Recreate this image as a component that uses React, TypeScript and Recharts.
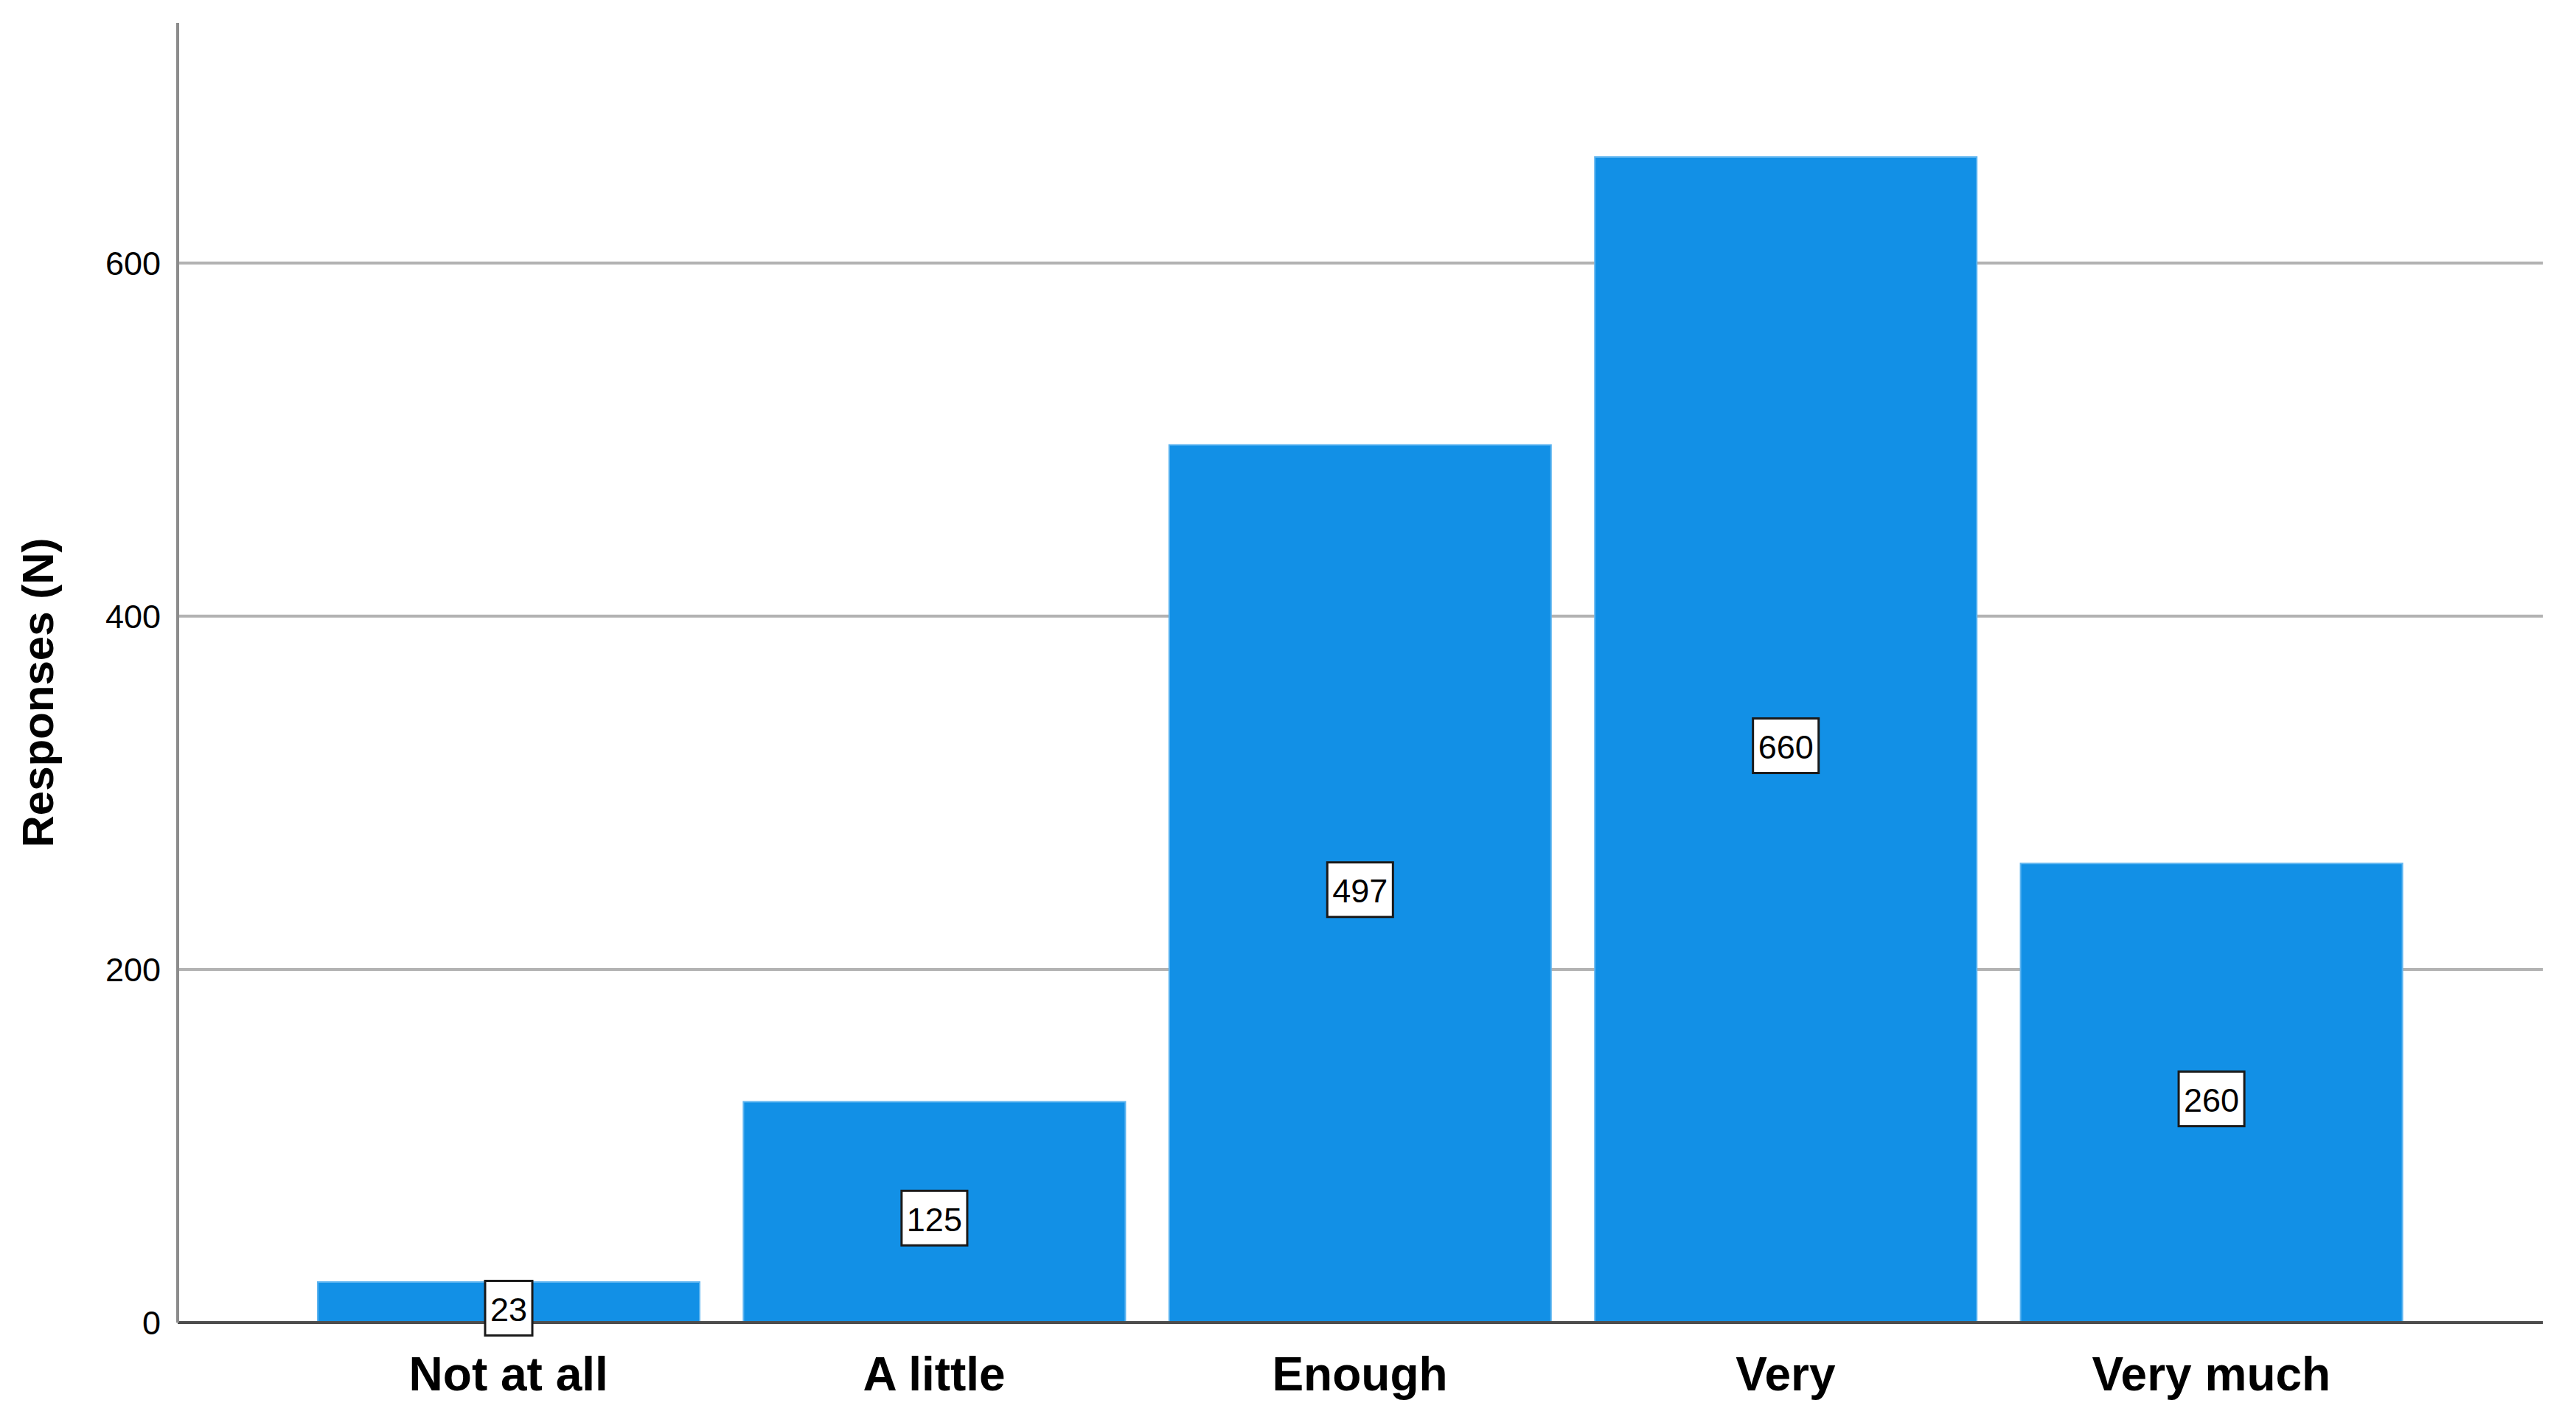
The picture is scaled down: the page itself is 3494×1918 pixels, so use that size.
import React from 'react';
import { BarChart, Bar, XAxis, YAxis, CartesianGrid, LabelList } from 'recharts';

const categories = ['Not at all', 'A little', 'Enough', 'Very', 'Very much'];
const responses = [23, 125, 497, 660, 260];
const yTicks = [0, 200, 400, 600];

const FONT = '"Liberation Sans", Arial, sans-serif';

const data = categories.map((name, i) => ({ name, value: responses[i] }));

// boxed value label drawn in the middle of each bar
function ValueBox(props: any) {
  const { x, y, width, height, value } = props;
  const text = String(value);
  const fontSize = 45;
  const boxW = text.length * fontSize * 0.556 + 14;
  const boxH = 74;
  const cx = x + width / 2;
  const cy = y + height / 2 + 8;
  return (
    <g>
      <rect
        x={cx - boxW / 2}
        y={cy - boxH / 2}
        width={boxW}
        height={boxH}
        fill="#ffffff"
        stroke="#1a1a1a"
        strokeWidth={3}
      />
      <text
        x={cx}
        y={cy + 2}
        textAnchor="middle"
        dominantBaseline="central"
        fontSize={fontSize}
        fontFamily={FONT}
        fill="#000"
      >
        {text}
      </text>
    </g>
  );
}

function YLabel(props: any) {
  const { viewBox } = props;
  const cx = viewBox.x + 51;
  const cy = viewBox.y + viewBox.height / 2 + 27;
  return (
    <text
      x={cx}
      y={cy}
      transform={`rotate(-90, ${cx}, ${cy})`}
      textAnchor="middle"
      dominantBaseline="central"
      fontSize={60}
      fontWeight="bold"
      fontFamily={FONT}
      fill="#000"
    >
      Responses (N)
    </text>
  );
}

export default function App() {
  return (
    <div style={{ position: 'absolute', left: 0, top: 0, background: '#fff', fontFamily: FONT }}>
      <BarChart
        width={3494}
        height={1918}
        data={data}
        margin={{ top: 31, right: 45, bottom: 0, left: 0 }}
      >
        <CartesianGrid vertical={false} syncWithTicks stroke="#b3b3b3" strokeWidth={4} />
        <XAxis
          dataKey="name"
          height={124}
          padding={{ left: 160, right: 161 }}
          axisLine={{ stroke: '#4d4d4d', strokeWidth: 4 }}
          tickLine={false}
          tickSize={0}
          tickMargin={47}
          tick={{ fontSize: 64, fontWeight: 'bold', fill: '#000', fontFamily: FONT }}
          interval={0}
        />
        <YAxis
          width={241}
          domain={[0, 736]}
          ticks={yTicks}
          allowDataOverflow
          axisLine={{ stroke: '#8c8c8c', strokeWidth: 4 }}
          tickLine={false}
          tickSize={0}
          tickMargin={23}
          tick={{ fontSize: 45, fill: '#000', fontFamily: FONT }}
          label={<YLabel />}
        />
        <Bar
          dataKey="value"
          fill="#1290e6"
          stroke="#5db4f0"
          strokeWidth={2}
          barSize={518}
          isAnimationActive={false}
        >
          <LabelList dataKey="value" content={<ValueBox />} />
        </Bar>
      </BarChart>
    </div>
  );
}
